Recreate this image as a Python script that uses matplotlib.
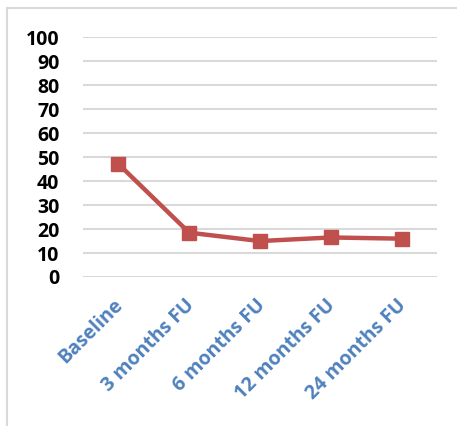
import matplotlib.pyplot as plt
from matplotlib.lines import Line2D
from matplotlib.transforms import ScaledTranslation

categories = ["Baseline", "3 months FU", "6 months FU", "12 months FU", "24 months FU"]
values = [47.2, 18.5, 15.0, 16.5, 16.0]
yticks = [0, 10, 20, 30, 40, 50, 60, 70, 80, 90, 100]

fig = plt.figure(figsize=(4.57, 4.26), dpi=100)
ax = fig.add_axes([0.1816, 0.3498, 0.7746, 0.5622])

xs = list(range(len(categories)))
ax.plot(xs, values, color="#C0504D", lw=3.2, marker="s", ms=10.5,
        markerfacecolor="#C0504D", markeredgecolor="#C0504D", zorder=3)

ax.set_xlim(-0.5, len(categories) - 0.5)
ax.set_ylim(0, 100)
ax.set_yticks(yticks)
ax.set_yticklabels([str(v) for v in yticks], fontfamily="Open Sans",
                   fontweight="bold", fontsize=14, color="black")
ax.set_xticks(xs)
ax.set_xticklabels(categories, rotation=45, ha="right", rotation_mode="anchor",
                   fontfamily="Open Sans", fontweight="bold", fontsize=14, color="#4F81BD")
ax.tick_params(axis="y", length=0, pad=17)
ax.tick_params(axis="x", length=0, pad=13)
shift = ScaledTranslation(-5 / 100, 0, fig.dpi_scale_trans)
for lab in ax.get_xticklabels():
    lab.set_transform(lab.get_transform() + shift)
ax.grid(axis="y", color="#D9D9D9", lw=1.5)
ax.set_axisbelow(True)
for s in ax.spines.values():
    s.set_visible(False)

# outer chart frame (only top and left visible in the crop)
fig.add_artist(Line2D([7 / 457, 1], [1 - 8 / 426, 1 - 8 / 426], color="#D9D9D9", lw=1.5,
                      transform=fig.transFigure))
fig.add_artist(Line2D([7 / 457, 7 / 457], [0, 1 - 8 / 426], color="#D9D9D9", lw=1.5,
                      transform=fig.transFigure))

fig.savefig("out.png", dpi=100)
